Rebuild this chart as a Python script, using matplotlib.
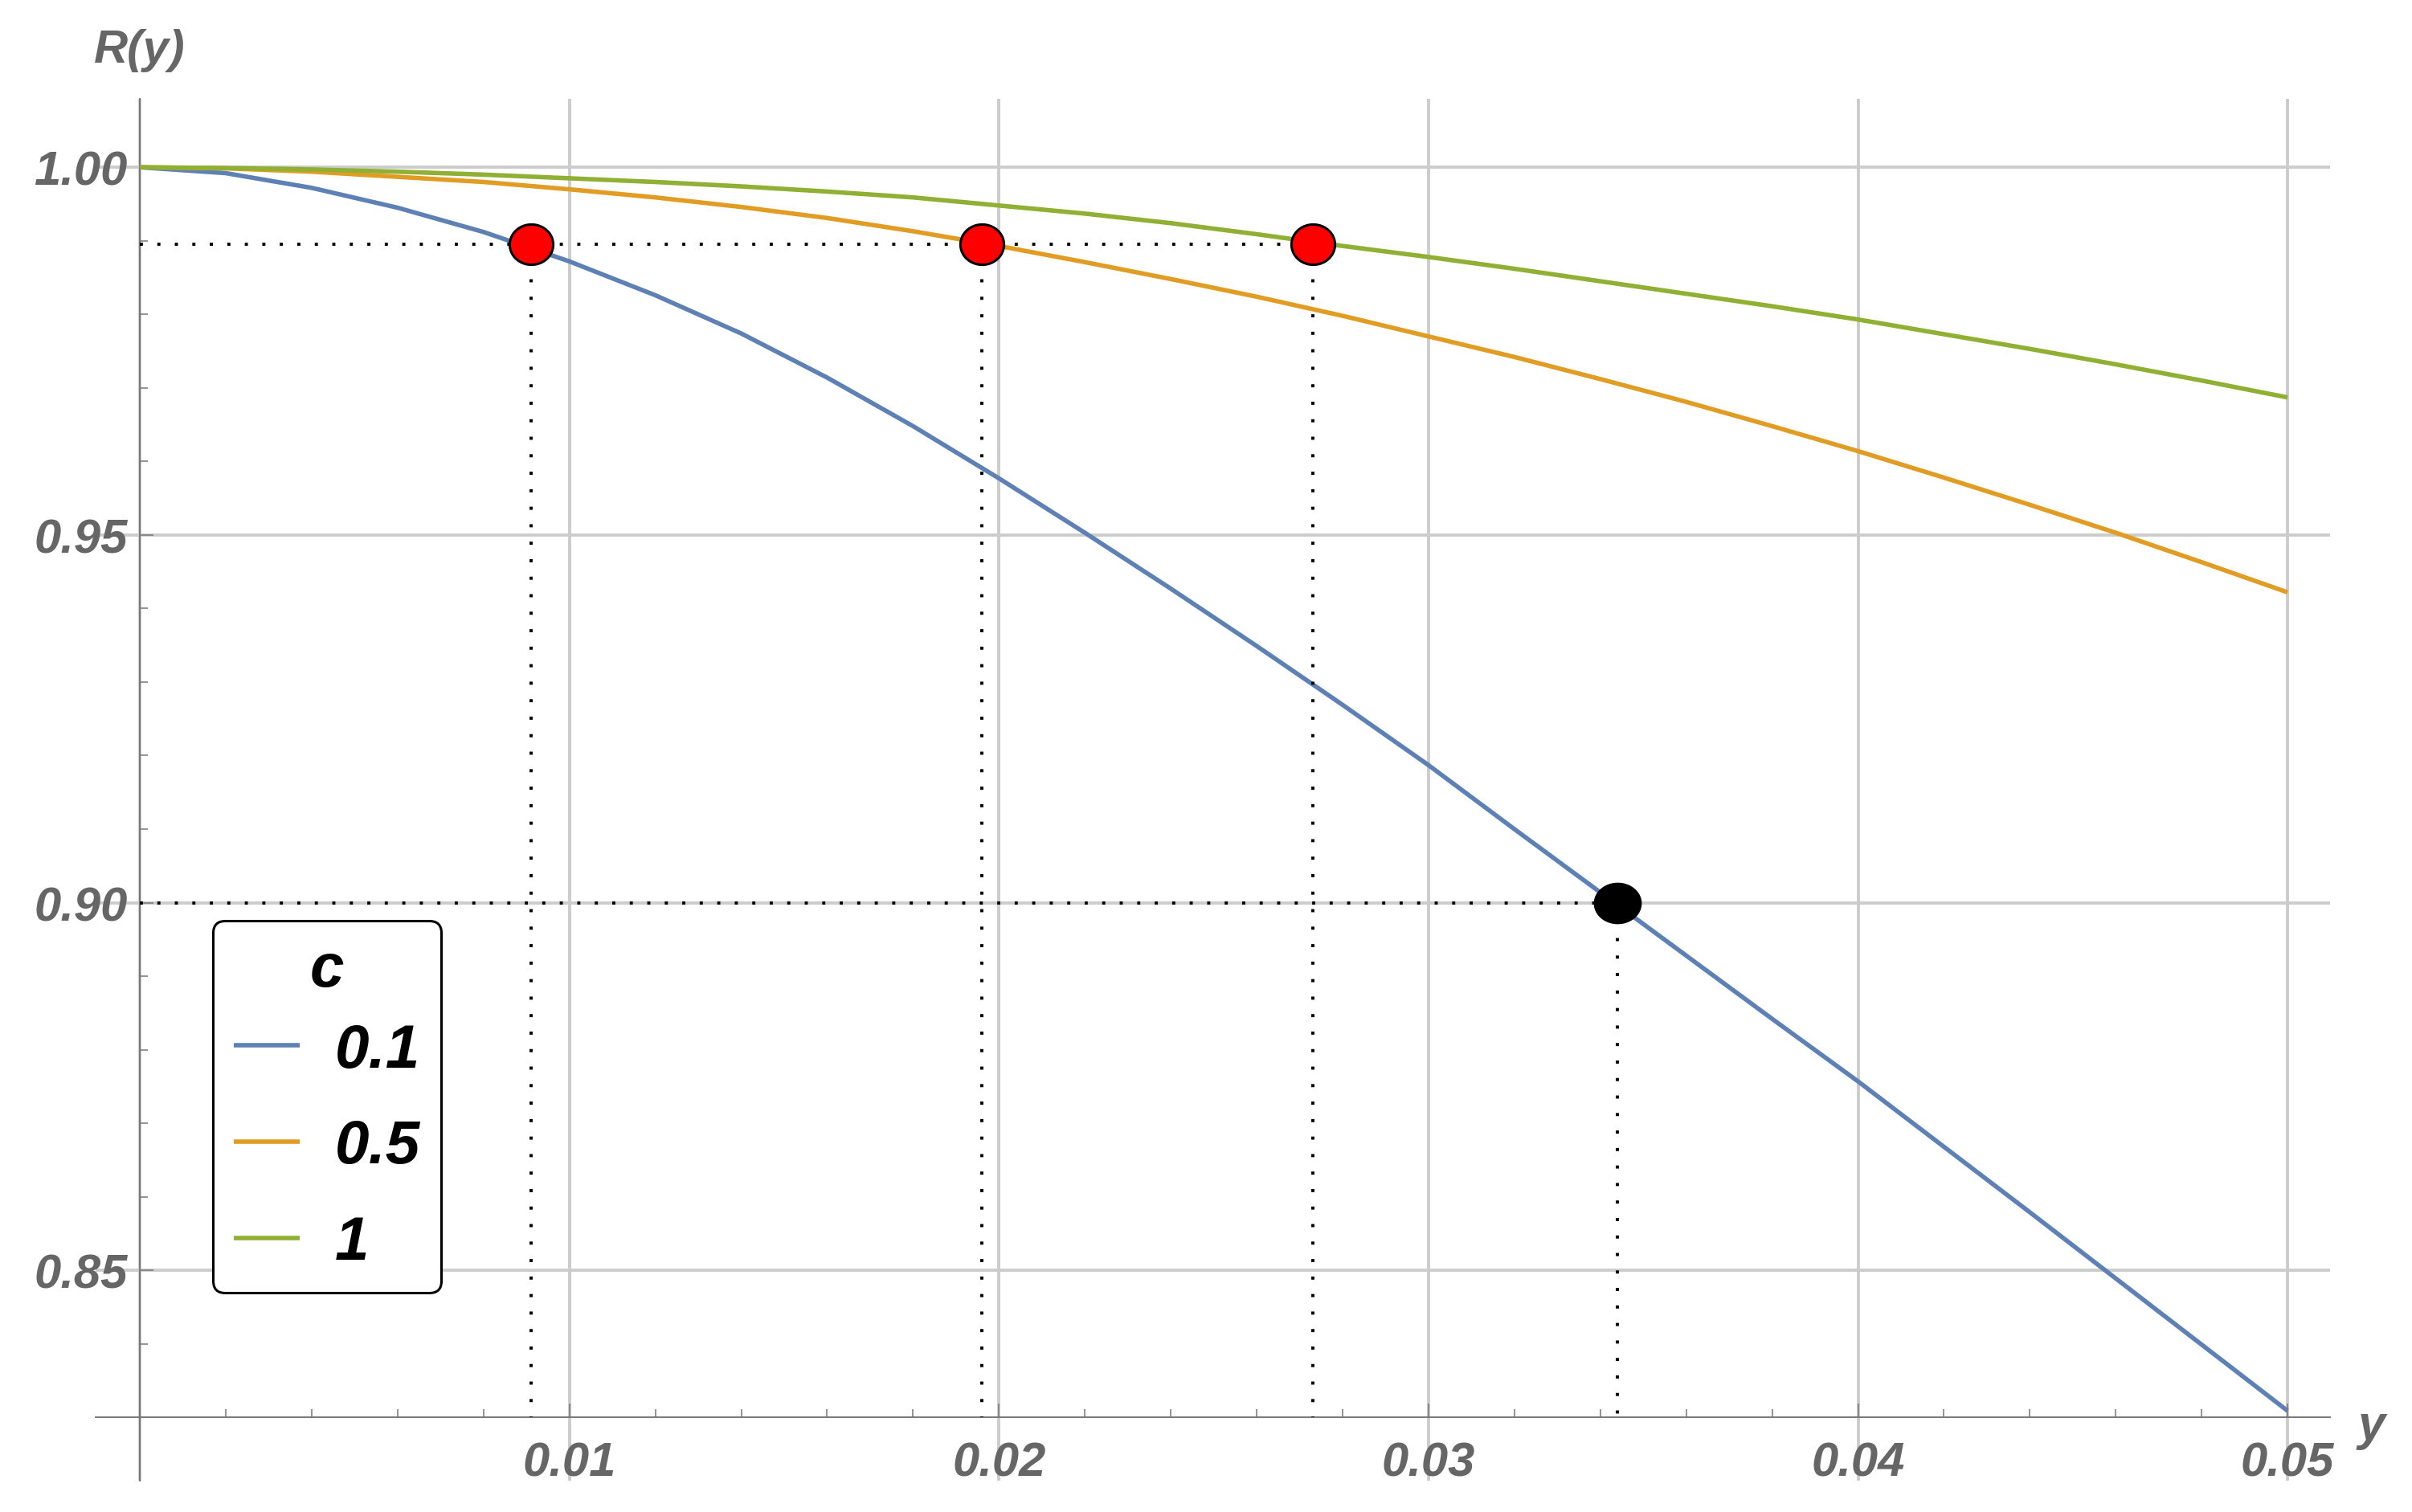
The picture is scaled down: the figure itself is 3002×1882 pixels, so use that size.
import numpy as np
import matplotlib
matplotlib.use("Agg")
import matplotlib.pyplot as plt
from matplotlib.path import Path
from matplotlib.ticker import FixedLocator

plt.rcParams['font.family'] = ['Liberation Sans', 'DejaVu Sans']

# sample points along y
y_vals = [0.000, 0.002, 0.004, 0.006, 0.008, 0.010, 0.012, 0.014, 0.016, 0.018,
          0.020, 0.022, 0.024, 0.026, 0.028, 0.030, 0.032, 0.034, 0.036, 0.038,
          0.040, 0.042, 0.044, 0.046, 0.048, 0.050]
r_c01 = [1.0000, 0.9992, 0.9972, 0.9945, 0.9912, 0.9872, 0.9826, 0.9774, 0.9714, 0.9648,
         0.9577, 0.9503, 0.9427, 0.9349, 0.9269, 0.9187, 0.9100, 0.9014, 0.8928, 0.8842,
         0.8757, 0.8668, 0.8579, 0.8489, 0.8399, 0.8309]
r_c05 = [1.0000, 0.99985, 0.9994, 0.9987, 0.9980, 0.9970, 0.9959, 0.9946, 0.9931, 0.9913,
         0.9893, 0.9871, 0.9848, 0.9824, 0.9798, 0.9770, 0.9742, 0.9712, 0.9681, 0.9648,
         0.9614, 0.9578, 0.9541, 0.9503, 0.9463, 0.9422]
r_c1 = [1.0000, 0.9999, 0.9997, 0.9994, 0.9990, 0.9985, 0.9980, 0.9974, 0.9967, 0.9959,
        0.9948, 0.9937, 0.9924, 0.9909, 0.9893, 0.9878, 0.9862, 0.9845, 0.9828, 0.9811,
        0.9793, 0.9773, 0.9753, 0.9732, 0.9710, 0.9687]
c_labels = ['0.1', '0.5', '1']

# marked points
red_y = [0.0091, 0.0196, 0.0273]
red_level = 0.9895
black_y = 0.0344
black_level = 0.90

x_ticks = [0.0, 0.01, 0.02, 0.03, 0.04, 0.05]
x_ticklabels = ['', '0.01', '0.02', '0.03', '0.04', '0.05']
y_ticks = [0.85, 0.90, 0.95, 1.00]
y_ticklabels = ['0.85', '0.90', '0.95', '1.00']

colors = ['#5E81B5', '#E19C24', '#8FB032']
gray = '#666666'


def ellipse_marker(ratio):
    t = np.linspace(0, 2 * np.pi, 80)
    verts = np.column_stack([ratio * np.cos(t), np.sin(t)])
    return Path(verts, closed=True)


fig = plt.figure(figsize=(30.02, 18.83), dpi=100)
ax = fig.add_axes([0.03964, 0.02071, 0.9264, 0.9134])
ax.set_xlim(-0.00103, 0.05099)
ax.set_ylim(0.8214, 1.0093)

lines = []
for vals, col, lab in zip([r_c01, r_c05, r_c1], colors, c_labels):
    ln, = ax.plot(y_vals, vals, color=col, lw=4.0, label=lab, zorder=3,
                  solid_capstyle='butt', solid_joinstyle='round')
    lines.append(ln)

dot_style = dict(color='black', lw=2.8, linestyle=(0, (1, 4.6)),
                 dash_capstyle='butt', zorder=4)
ax.plot([0, max(red_y)], [red_level, red_level], **dot_style)
ax.plot([0, black_y], [black_level, black_level], **dot_style)
for xv in red_y:
    ax.plot([xv, xv], [red_level, 0.83], **dot_style)
ax.plot([black_y, black_y], [black_level, 0.83], **dot_style)

ax.plot(red_y, [red_level] * len(red_y), linestyle='none',
        marker=ellipse_marker(1.08), markersize=39, markerfacecolor='red',
        markeredgecolor='black', markeredgewidth=2.2, zorder=5)
ax.plot([black_y], [black_level], linestyle='none',
        marker=ellipse_marker(1.16), markersize=42, markerfacecolor='black',
        markeredgecolor='black', markeredgewidth=1, zorder=5)

# axes through the origin, Mathematica style
for side in ['top', 'right']:
    ax.spines[side].set_visible(False)
ax.spines['left'].set_position(('data', 0))
ax.spines['bottom'].set_position(('data', 0.83))
for side in ['left', 'bottom']:
    ax.spines[side].set_color('#777777')
    ax.spines[side].set_linewidth(1.4)
    ax.spines[side].set_zorder(2.5)

ax.set_xticks(x_ticks)
ax.set_xticklabels(x_ticklabels)
ax.set_yticks(y_ticks)
ax.set_yticklabels(y_ticklabels)
ax.xaxis.set_minor_locator(FixedLocator([i * 0.002 for i in range(26) if i % 5 != 0]))
ax.yaxis.set_minor_locator(FixedLocator([0.83 + i * 0.01 for i in range(18)
                                         if (i + 3) % 5 != 0]))
ax.tick_params(which='both', direction='in', color='#777777', width=1.1,
               top=False, right=False)
ax.tick_params(which='major', length=12)
ax.tick_params(which='minor', length=7)
ax.tick_params(axis='x', which='major', pad=21)
ax.tick_params(axis='y', which='major', pad=11)
for lbl in ax.get_xticklabels() + ax.get_yticklabels():
    lbl.set_fontsize(43)
    lbl.set_fontweight('bold')
    lbl.set_fontstyle('italic')
    lbl.set_color(gray)

ax.set_axisbelow(True)
ax.grid(True, which='major', color='#cccccc', lw=2.8)

fig.text(174 / 3002, 1 - 63 / 1883, 'R(y)', fontsize=42, fontweight='bold',
         fontstyle='italic', color=gray, ha='center', va='center')
fig.text(2952 / 3002, 1 - 1777 / 1883, 'y', fontsize=44, fontweight='bold',
         fontstyle='italic', color=gray, ha='center', va='center')

leg = ax.legend(handles=lines, title='c', loc='upper left',
                bbox_to_anchor=(0.0525, 0.4052), borderaxespad=0,
                prop={'size': 55, 'weight': 'bold', 'style': 'italic'},
                title_fontproperties={'size': 55, 'weight': 'bold', 'style': 'italic'},
                handlelength=1.07, handletextpad=0.58, borderpad=0.34,
                labelspacing=0.64, fancybox=True, framealpha=1)
# tighter gap between the title and the first entry
leg._legend_box.sep = 0.64 * 55 - 14
leg.get_frame().set_edgecolor('black')
leg.get_frame().set_linewidth(2.2)
for h in leg.legend_handles:
    h.set_linewidth(4.0)

fig.savefig('out.png', dpi=100)
